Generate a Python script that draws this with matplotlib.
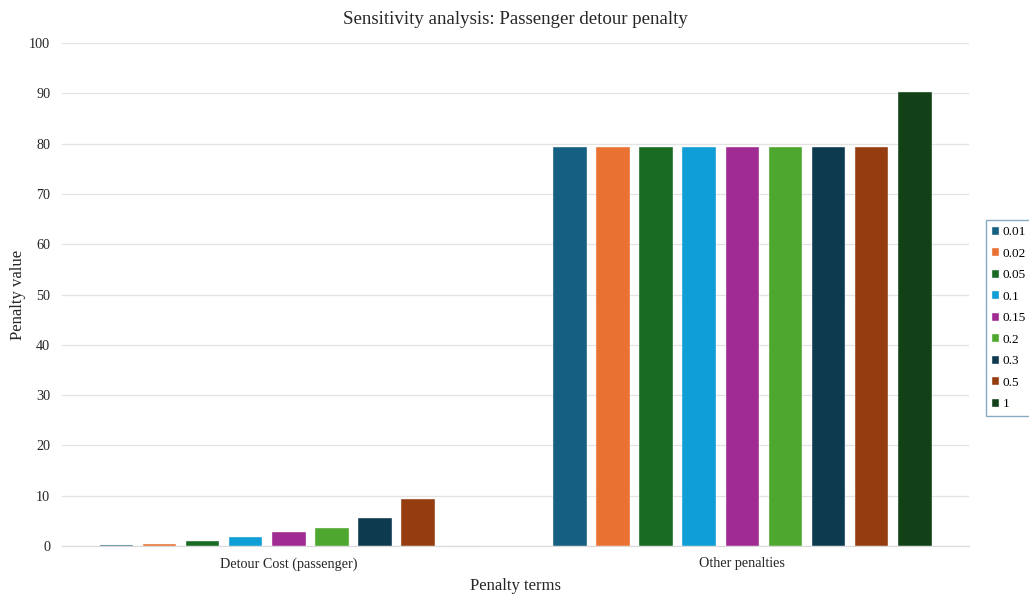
import matplotlib
matplotlib.use("Agg")
import matplotlib.pyplot as plt
import numpy as np

categories = ["Detour Cost (passenger)", "Other penalties"]
series_labels = ["0.01", "0.02", "0.05", "0.1", "0.15", "0.2", "0.3", "0.5", "1"]
detour_cost = [0.2, 0.4, 1.0, 1.8, 2.8, 3.6, 5.5, 9.3, 0.0]
other_penalties = [79.3, 79.3, 79.3, 79.3, 79.3, 79.3, 79.3, 79.3, 90.3]
colors = ["#156082", "#e97132", "#196b24", "#0f9ed5", "#a02b93",
          "#4ea72e", "#0e3a50", "#953d11", "#124118"]

plt.rcParams["font.family"] = ["Liberation Serif", "DejaVu Serif"]

fig = plt.figure(figsize=(10.29, 6.07), dpi=100)
ax = fig.add_axes([0.0603, 0.1005, 0.8814, 0.8285])

x = np.arange(len(categories))
slot = 0.0951
width = 0.0739
n = len(series_labels)
for i, lab in enumerate(series_labels):
    offs = (i - (n - 1) / 2) * slot
    vals = [detour_cost[i], other_penalties[i]]
    ax.bar(x + offs, vals, width=width, color=colors[i], label=lab,
           edgecolor="#f4f4f4", linewidth=0.3, zorder=3)

ax.set_xlim(-0.5, 1.5)
ax.set_ylim(0, 100)
ax.set_yticks(np.arange(0, 101, 10))
ax.set_xticks(x)
ax.set_xticklabels(categories, fontsize=10.2)
ax.tick_params(axis="both", length=0, labelsize=10.2, colors="#262626")
ax.tick_params(axis="y", pad=8.5)
ax.tick_params(axis="x", pad=8)
ax.grid(axis="y", color="#e3e3e3", linewidth=0.9, zorder=0)
for s in ["top", "right", "left"]:
    ax.spines[s].set_visible(False)
ax.spines["bottom"].set_color("#d9d9d9")

ax.set_title("Sensitivity analysis: Passenger detour penalty", fontsize=13.6,
             color="#262626", pad=14)
ax.set_ylabel("Penalty value", fontsize=12, color="#262626", labelpad=2)
ax.set_xlabel("Penalty terms", fontsize=12, color="#262626", labelpad=5)

leg = fig.legend(loc="upper left", bbox_to_anchor=(0.958, 0.637),
                 fontsize=9.5, frameon=True, fancybox=False,
                 handlelength=0.55, handleheight=0.55, handletextpad=0.3,
                 labelspacing=0.72, borderpad=0.45, borderaxespad=0.0)
leg.get_frame().set_edgecolor("#6b96b4")
leg.get_frame().set_linewidth(1.0)

fig.savefig("out.png", dpi=100)
